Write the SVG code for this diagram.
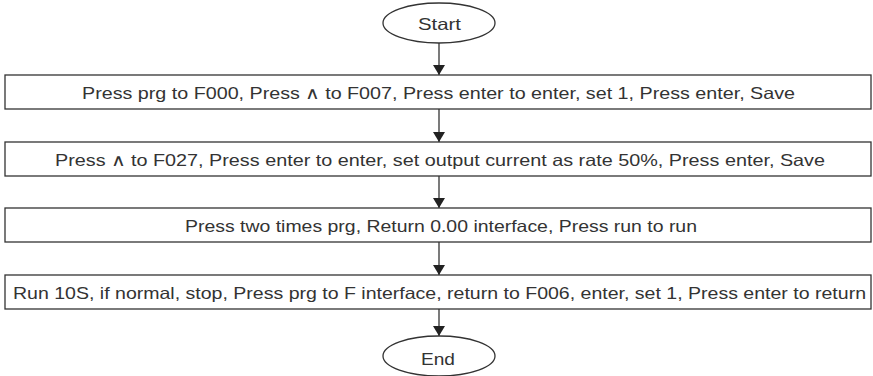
<svg xmlns="http://www.w3.org/2000/svg" width="873" height="376" viewBox="0 0 873 376">
<style>
.box{fill:#fff;stroke:#333;stroke-width:1.3}
.t{font-family:"Liberation Sans",Arial,sans-serif;font-size:16.5px;fill:#333;text-anchor:middle}
.c{stroke:#222;stroke-width:1.2;fill:none}
</style>
<defs>
<marker id="ah" markerWidth="10" markerHeight="12" refX="10" refY="6" orient="auto" markerUnits="userSpaceOnUse">
<path d="M0,0 L10,6 L0,12 Z" fill="#222"/>
</marker>
</defs>
<rect width="873" height="376" fill="#fff"/>
<g id="connectors">
<line class="c" x1="439" y1="43" x2="439" y2="75" marker-end="url(#ah)"/>
<line class="c" x1="439" y1="109" x2="439" y2="142" marker-end="url(#ah)"/>
<line class="c" x1="439" y1="176" x2="439" y2="208" marker-end="url(#ah)"/>
<line class="c" x1="439" y1="242" x2="439" y2="275" marker-end="url(#ah)"/>
<line class="c" x1="439" y1="309" x2="439" y2="336" marker-end="url(#ah)"/>
</g>
<g id="start">
<ellipse class="box" cx="439" cy="23" rx="56" ry="20"/>
<text class="t" x="439.5" y="30" textLength="43" lengthAdjust="spacingAndGlyphs">Start</text>
</g>
<g id="step1">
<rect class="box" x="5" y="75" width="866" height="34"/>
<text class="t" x="438.5" y="99" textLength="713" lengthAdjust="spacingAndGlyphs">Press prg to F000, Press ∧ to F007, Press enter to enter, set 1, Press enter, Save</text>
</g>
<g id="step2">
<rect class="box" x="5" y="142" width="866" height="34"/>
<text class="t" x="440" y="166" textLength="770" lengthAdjust="spacingAndGlyphs">Press ∧ to F027, Press enter to enter, set output current as rate 50%, Press enter, Save</text>
</g>
<g id="step3">
<rect class="box" x="5" y="208" width="866" height="34"/>
<text class="t" x="441" y="232" textLength="512" lengthAdjust="spacingAndGlyphs">Press two times prg, Return 0.00 interface, Press run to run</text>
</g>
<g id="step4">
<rect class="box" x="5" y="275" width="866" height="34"/>
<text class="t" x="439.5" y="299" textLength="853" lengthAdjust="spacingAndGlyphs">Run 10S, if normal, stop, Press prg to F interface, return to F006, enter, set 1, Press enter to return</text>
</g>
<g id="end">
<ellipse class="box" cx="439" cy="356" rx="56" ry="20"/>
<text class="t" x="438" y="365" textLength="34" lengthAdjust="spacingAndGlyphs">End</text>
</g>
</svg>
